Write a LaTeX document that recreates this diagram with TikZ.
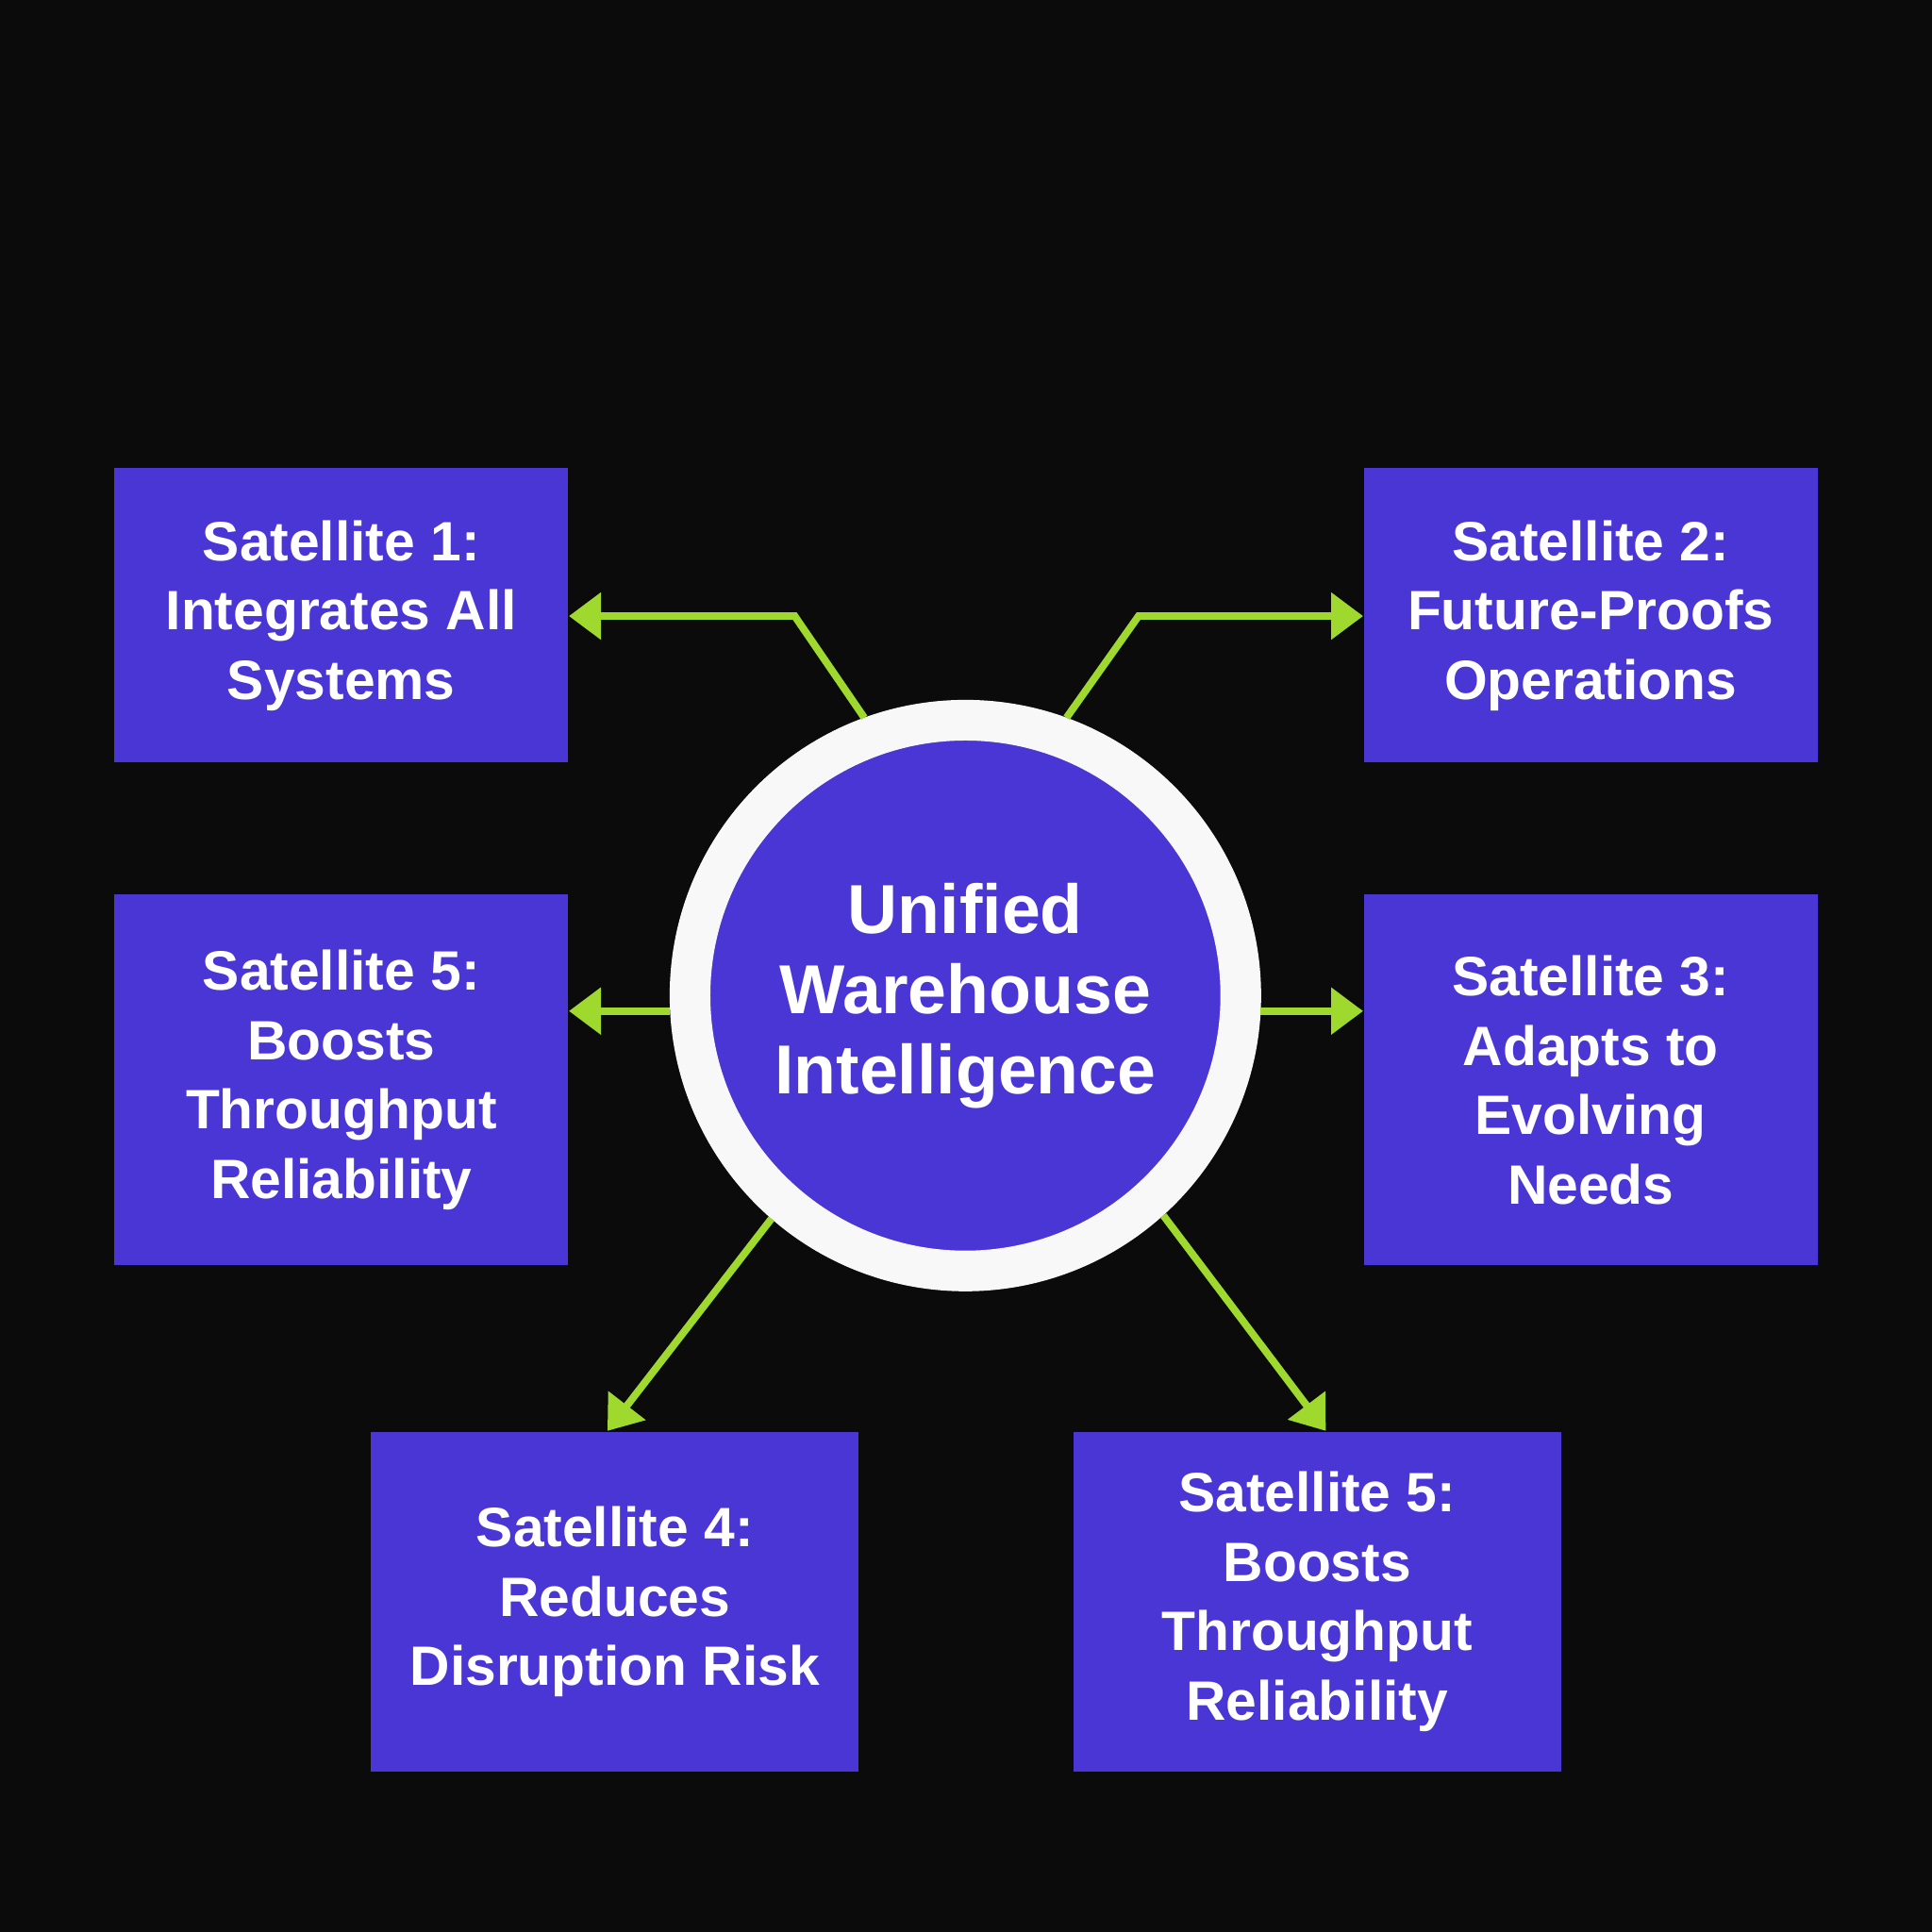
\documentclass[tikz,border=0pt]{standalone}
\usepackage{fontspec}
\setmainfont{Liberation Sans}
\usetikzlibrary{arrows.meta}
\definecolor{bgdark}{HTML}{0B0B0B}
\definecolor{satblue}{HTML}{4A36D4}
\definecolor{linkgreen}{HTML}{9FD92E}
\definecolor{ringwhite}{HTML}{F8F8F8}

\begin{document}
\begin{tikzpicture}[
  sat/.style={rectangle, fill=satblue, text=white, align=center,
    minimum width=3.68cm, minimum height=2.39cm, inner sep=0pt,
    font=\fontsize{12.8}{16}\selectfont\bfseries},
  link/.style={draw=linkgreen, line width=1.7pt,
    -{Triangle[length=0.26cm, width=0.37cm]}},
]
  % 背景
  \fill[bgdark] (0,0) rectangle (15.68,-15.68);
  \useasboundingbox (0,0) rectangle (15.68,-15.68);

  % 中心圆
  \node[circle, fill=satblue, draw=ringwhite, line width=0.33cm,
    minimum size=4.47cm, text=white, align=center,
    font=\fontsize{16}{18.5}\selectfont\bfseries]
    (hub) at (7.835,-8.08) {Unified\\Warehouse\\Intelligence};

  % 卫星框
  \node[sat] (satone) at (2.77,-4.995) {Satellite 1:\\Integrates All\\Systems};
  \node[sat] (sattwo) at (12.91,-4.995) {Satellite 2:\\Future-Proofs\\Operations};
  \node[sat, minimum height=3.01cm] (satfive) at (2.77,-8.765)
    {Satellite 5:\\Boosts\\Throughput\\Reliability};
  \node[sat, minimum height=3.01cm] (satthree) at (12.91,-8.765)
    {Satellite 3:\\Adapts to\\Evolving\\Needs};
  \node[sat, minimum width=3.96cm, minimum height=2.76cm] (satfour) at (4.99,-13.00)
    {Satellite 4:\\Reduces\\Disruption Risk};
  \node[sat, minimum width=3.96cm, minimum height=2.76cm] (satsix) at (10.69,-13.00)
    {Satellite 5:\\Boosts\\Throughput\\Reliability};

  % 折线拐点
  \coordinate (kone) at (6.45,-5.00);
  \coordinate (ktwo) at (9.24,-5.00);

  % 连线
  \draw[link] (hub.110) -- (kone) -- (kone -| satone.east);
  \draw[link] (hub.70) -- (ktwo) -- (ktwo -| sattwo.west);
  \draw[link] (hub.183) -- (hub.183 -| satfive.east);
  \draw[link] (hub.-3) -- (hub.-3 -| satthree.west);
  \draw[link] (hub.229) -- ([xshift=-0.06cm]satfour.north);
  \draw[link] (hub.-48) -- ([xshift=0.07cm]satsix.north);
\end{tikzpicture}
\end{document}
